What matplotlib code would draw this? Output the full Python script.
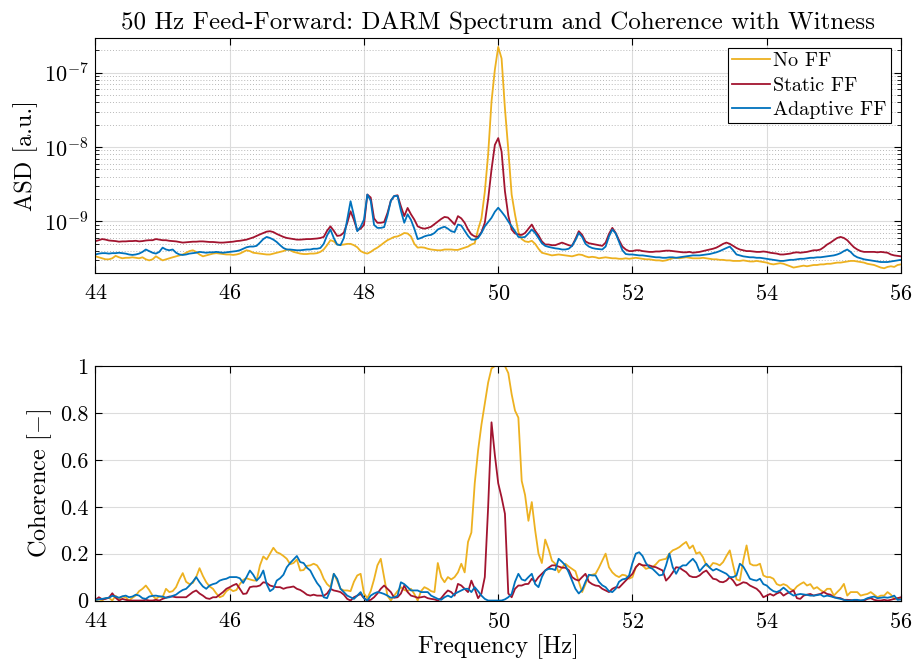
import numpy as np
import matplotlib
matplotlib.use("Agg")
import matplotlib.pyplot as plt
from matplotlib.ticker import NullFormatter, FixedLocator

# frequency bins (0.05 Hz resolution)
freq = np.linspace(44, 56, 241)

# ASD values in units of 1e-10, one row per Hz (44.00 ... 44.95 etc.)
asd_noff = [
    3.4, 3.3, 3.2, 3.1, 3.1, 3.2, 3.45, 3.3, 3.2, 3.25, 3.25, 3.3, 3.25, 3.2, 3.3, 3.1, 3.0, 3.1, 3.4, 3.2,
    3.0, 3.1, 3.2, 3.3, 3.4, 3.5, 3.6, 3.8, 4.0, 4.1, 3.9, 3.6, 3.4, 3.5, 3.6, 3.7, 3.75, 3.7, 3.65, 3.6,
    3.6, 3.55, 3.6, 3.7, 3.9, 4.1, 4.0, 3.8, 3.75, 3.7, 3.65, 3.6, 3.6, 3.7, 3.8, 3.9, 4.0, 4.2, 4.1, 3.9,
    3.8, 3.7, 3.65, 3.65, 3.7, 3.7, 3.75, 3.9, 4.2, 4.8, 5.6, 5.4, 4.9, 4.85, 4.9, 5.0, 5.0, 4.8, 4.5, 4.0,
    3.8, 3.7, 3.9, 4.2, 4.45, 4.8, 5.2, 5.6, 5.9, 6.2, 6.3, 6.6, 7.0, 6.9, 6.3, 5.0, 4.45, 4.5, 4.45, 4.3,
    4.2, 4.15, 4.1, 4.1, 4.2, 4.2, 4.2, 4.15, 4.15, 4.3, 4.45, 4.6, 4.9, 5.1, 7.8, 11.0, 25.0, 80.0, 410.0, 1100.0,
    2220.0, 1550.0, 330.0, 92.0, 23.0, 12.4, 7.2, 5.8, 5.4, 5.3, 5.5, 5.0, 4.3, 3.8, 3.7, 3.6, 3.5, 3.55, 3.6, 3.55,
    3.5, 3.45, 3.4, 3.5, 3.6, 3.55, 3.4, 3.3, 3.35, 3.3, 3.2, 3.25, 3.3, 3.25, 3.2, 3.2, 3.15, 3.15, 3.2, 3.15,
    3.2, 3.25, 3.2, 3.15, 3.1, 3.1, 3.05, 3.0, 3.0, 2.95, 3.0, 3.1, 3.2, 3.25, 3.2, 3.25, 3.3, 3.25, 3.2, 3.2,
    3.2, 3.25, 3.2, 3.15, 3.1, 3.1, 3.05, 3.05, 3.0, 3.0, 2.95, 2.95, 2.95, 3.0, 2.95, 2.9, 2.9, 2.95, 2.9, 2.85,
    2.8, 2.7, 2.65, 2.7, 2.75, 2.7, 2.6, 2.5, 2.4, 2.45, 2.5, 2.55, 2.5, 2.55, 2.6, 2.6, 2.65, 2.65, 2.7, 2.7,
    2.75, 2.8, 2.8, 2.85, 2.9, 2.95, 2.95, 2.9, 2.85, 2.8, 2.7, 2.65, 2.6, 2.5, 2.4, 2.35, 2.45, 2.5, 2.45, 2.6,
    2.65,
]
asd_static = [
    5.45, 5.6, 5.8, 5.7, 5.55, 5.5, 5.45, 5.35, 5.4, 5.4, 5.45, 5.45, 5.5, 5.4, 5.45, 5.55, 5.6, 5.6, 5.8, 5.7,
    5.6, 5.6, 5.5, 5.45, 5.4, 5.3, 5.2, 5.25, 5.3, 5.35, 5.35, 5.4, 5.4, 5.35, 5.3, 5.3, 5.25, 5.2, 5.2, 5.25,
    5.3, 5.35, 5.45, 5.5, 5.6, 5.7, 5.9, 6.1, 6.4, 6.7, 7.0, 7.3, 7.4, 7.2, 6.8, 6.5, 6.2, 6.0, 5.9, 5.8,
    5.7, 5.7, 5.75, 5.8, 5.8, 5.85, 5.9, 6.0, 6.2, 7.5, 8.6, 7.5, 6.4, 6.5, 7.1, 9.5, 13.7, 10.5, 7.6, 8.0,
    9.0, 23.0, 21.0, 11.0, 9.6, 9.6, 9.8, 13.0, 19.0, 22.0, 22.5, 16.0, 11.8, 15.2, 12.5, 10.6, 8.6, 8.2, 8.0, 8.2,
    8.5, 9.2, 10.0, 10.8, 11.5, 11.3, 10.2, 9.1, 11.8, 11.0, 9.6, 7.8, 6.7, 6.3, 6.2, 7.2, 9.6, 20.0, 50.0, 107.0,
    132.0, 87.0, 25.5, 12.0, 7.8, 6.9, 6.7, 6.6, 7.0, 8.0, 9.1, 7.5, 6.5, 5.4, 4.9, 4.9, 4.8, 4.8, 5.0, 5.2,
    5.0, 4.8, 4.7, 5.8, 7.4, 6.6, 5.4, 5.1, 5.0, 4.9, 4.8, 4.7, 5.2, 6.8, 8.2, 7.0, 5.6, 4.6, 4.2, 4.0,
    4.0, 4.1, 4.1, 4.0, 3.95, 3.9, 3.9, 3.95, 3.95, 4.0, 4.05, 4.05, 4.0, 3.95, 3.9, 3.85, 3.85, 3.9, 3.8, 3.85,
    3.9, 4.0, 4.1, 4.2, 4.3, 4.45, 4.7, 5.0, 5.2, 5.0, 4.7, 4.4, 4.2, 4.1, 4.0, 4.0, 3.95, 3.9, 3.9, 3.95,
    3.9, 3.8, 3.75, 3.7, 3.6, 3.6, 3.65, 3.7, 3.8, 3.85, 3.8, 3.85, 3.9, 4.0, 4.1, 4.1, 4.2, 4.5, 4.9, 5.2,
    5.6, 6.0, 6.2, 6.0, 5.6, 5.0, 4.5, 4.2, 4.0, 3.9, 3.9, 3.9, 3.9, 3.85, 3.9, 3.85, 3.8, 3.6, 3.5, 3.45,
    3.4,
]
asd_adaptive = [
    3.6, 3.7, 3.75, 3.75, 3.7, 3.75, 3.75, 3.8, 3.75, 3.7, 3.6, 3.55, 3.6, 3.7, 3.9, 4.2, 4.0, 3.8, 3.7, 3.9,
    4.45, 4.2, 4.1, 4.2, 3.8, 3.6, 3.55, 3.6, 3.7, 3.75, 3.8, 3.9, 3.85, 3.8, 3.85, 3.85, 3.9, 3.85, 3.8, 3.85,
    3.9, 3.95, 4.0, 4.1, 4.3, 4.5, 4.6, 4.6, 4.7, 5.2, 5.8, 6.2, 6.0, 5.7, 5.3, 4.8, 4.4, 4.2, 4.2, 4.15,
    4.1, 4.1, 4.15, 4.2, 4.2, 4.3, 4.3, 4.4, 5.0, 6.5, 7.8, 6.0, 4.9, 4.8, 6.0, 10.5, 18.7, 12.0, 7.4, 8.5,
    10.6, 23.0, 19.0, 9.0, 8.2, 8.2, 8.4, 12.0, 19.0, 22.0, 22.0, 14.0, 9.6, 12.5, 10.5, 8.0, 5.8, 6.0, 6.3, 6.5,
    6.6, 7.0, 7.8, 8.2, 8.5, 8.0, 7.4, 7.2, 9.1, 8.8, 7.5, 6.4, 5.7, 5.7, 6.0, 7.0, 8.6, 9.8, 11.2, 13.5,
    15.3, 13.5, 11.8, 10.0, 8.6, 7.4, 6.2, 6.1, 6.2, 6.9, 7.8, 7.0, 6.0, 5.1, 4.7, 4.55, 4.45, 4.35, 4.3, 4.2,
    4.2, 4.3, 4.7, 5.6, 7.0, 6.2, 5.0, 4.6, 4.4, 4.3, 4.25, 4.2, 4.6, 6.3, 7.8, 6.9, 5.3, 4.1, 3.65, 3.6,
    3.6, 3.55, 3.5, 3.5, 3.45, 3.4, 3.35, 3.3, 3.3, 3.25, 3.25, 3.3, 3.3, 3.25, 3.3, 3.35, 3.4, 3.45, 3.5, 3.5,
    3.5, 3.55, 3.6, 3.65, 3.75, 3.85, 4.0, 4.2, 4.4, 4.6, 4.1, 3.6, 3.5, 3.4, 3.35, 3.3, 3.3, 3.25, 3.25, 3.2,
    3.15, 3.1, 3.05, 3.0, 2.95, 2.95, 3.0, 3.05, 3.05, 3.1, 3.15, 3.15, 3.2, 3.25, 3.25, 3.3, 3.3, 3.35, 3.4, 3.45,
    3.5, 3.6, 3.75, 4.0, 4.2, 3.9, 3.5, 3.3, 3.2, 3.1, 3.05, 3.0, 2.95, 2.9, 2.85, 2.85, 2.85, 2.9, 2.95, 3.0,
    3.05,
]

# coherence with witness channel
coh_noff = [
    0.0, 0.005, 0.0, 0.01, 0.012, 0.0, 0.02, 0.007, 0.017, 0.014, 0.0, 0.012, 0.021, 0.04, 0.05, 0.064, 0.045, 0.021, 0.007, 0.017,
    0.014, 0.05, 0.036, 0.04, 0.057, 0.09, 0.117, 0.08, 0.07, 0.075, 0.1, 0.138, 0.105, 0.078, 0.06, 0.05, 0.03, 0.014, 0.02, 0.04,
    0.05, 0.04, 0.045, 0.07, 0.088, 0.095, 0.09, 0.086, 0.085, 0.15, 0.188, 0.175, 0.2, 0.225, 0.206, 0.2, 0.19, 0.178, 0.155, 0.16,
    0.175, 0.128, 0.13, 0.148, 0.15, 0.157, 0.15, 0.128, 0.093, 0.07, 0.057, 0.114, 0.085, 0.05, 0.043, 0.043, 0.04, 0.08, 0.107, 0.114,
    0.03, 0.01, 0.04, 0.09, 0.15, 0.178, 0.1, 0.02, 0.0, 0.021, 0.04, 0.057, 0.045, 0.04, 0.05, 0.028, 0.0, 0.04, 0.057, 0.05,
    0.04, 0.036, 0.16, 0.1, 0.078, 0.1, 0.09, 0.1, 0.12, 0.157, 0.12, 0.25, 0.29, 0.5, 0.64, 0.75, 0.84, 0.93, 0.99, 1.0,
    1.0, 1.0, 1.0, 0.97, 0.88, 0.81, 0.78, 0.51, 0.45, 0.34, 0.42, 0.3, 0.2, 0.16, 0.26, 0.22, 0.17, 0.157, 0.12, 0.14,
    0.157, 0.145, 0.135, 0.125, 0.08, 0.036, 0.07, 0.107, 0.11, 0.114, 0.14, 0.17, 0.2, 0.142, 0.12, 0.107, 0.1, 0.11, 0.107, 0.093,
    0.1, 0.142, 0.157, 0.15, 0.135, 0.14, 0.142, 0.155, 0.171, 0.175, 0.178, 0.2, 0.214, 0.22, 0.228, 0.24, 0.25, 0.222, 0.235, 0.2,
    0.206, 0.185, 0.15, 0.142, 0.16, 0.157, 0.15, 0.164, 0.19, 0.214, 0.15, 0.09, 0.085, 0.17, 0.235, 0.157, 0.15, 0.15, 0.157, 0.107,
    0.1, 0.1, 0.093, 0.07, 0.064, 0.07, 0.064, 0.05, 0.043, 0.06, 0.07, 0.078, 0.064, 0.07, 0.05, 0.057, 0.045, 0.036, 0.05, 0.05,
    0.021, 0.036, 0.05, 0.071, 0.021, 0.036, 0.036, 0.036, 0.021, 0.025, 0.028, 0.036, 0.025, 0.014, 0.021, 0.021, 0.036, 0.025, 0.007, 0.01,
    0.007,
]
coh_static = [
    0.003, 0.014, 0.005, 0.007, 0.012, 0.031, 0.012, 0.0, 0.007, 0.003, 0.0, 0.0, 0.0, 0.0, 0.0, 0.003, 0.0, 0.0, 0.003, 0.0,
    0.007, 0.012, 0.017, 0.017, 0.014, 0.014, 0.014, 0.014, 0.025, 0.036, 0.043, 0.03, 0.021, 0.01, 0.007, 0.014, 0.014, 0.025, 0.036, 0.05,
    0.057, 0.065, 0.071, 0.05, 0.028, 0.03, 0.057, 0.06, 0.06, 0.064, 0.078, 0.075, 0.064, 0.06, 0.057, 0.057, 0.05, 0.055, 0.057, 0.06,
    0.05, 0.045, 0.036, 0.025, 0.021, 0.025, 0.021, 0.021, 0.02, 0.03, 0.05, 0.043, 0.04, 0.036, 0.025, 0.007, 0.0, 0.014, 0.021, 0.028,
    0.01, 0.0, 0.003, 0.014, 0.03, 0.05, 0.064, 0.05, 0.036, 0.012, 0.014, 0.03, 0.064, 0.036, 0.021, 0.017, 0.012, 0.014, 0.017, 0.01,
    0.007, 0.005, 0.0, 0.01, 0.028, 0.043, 0.036, 0.021, 0.071, 0.064, 0.05, 0.036, 0.085, 0.05, 0.01, 0.03, 0.1, 0.4, 0.76, 0.62,
    0.5, 0.44, 0.37, 0.03, 0.014, 0.05, 0.064, 0.064, 0.07, 0.071, 0.093, 0.08, 0.1, 0.114, 0.128, 0.14, 0.15, 0.15, 0.145, 0.14,
    0.14, 0.13, 0.1, 0.09, 0.085, 0.1, 0.114, 0.08, 0.07, 0.064, 0.062, 0.05, 0.043, 0.036, 0.05, 0.057, 0.055, 0.07, 0.085, 0.1,
    0.114, 0.142, 0.157, 0.15, 0.15, 0.15, 0.145, 0.142, 0.135, 0.128, 0.085, 0.1, 0.12, 0.142, 0.14, 0.13, 0.121, 0.105, 0.1, 0.1,
    0.107, 0.12, 0.128, 0.11, 0.093, 0.09, 0.08, 0.078, 0.085, 0.1, 0.085, 0.064, 0.07, 0.078, 0.075, 0.064, 0.057, 0.05, 0.036, 0.014,
    0.021, 0.028, 0.021, 0.03, 0.036, 0.021, 0.03, 0.036, 0.043, 0.01, 0.007, 0.021, 0.025, 0.028, 0.021, 0.025, 0.028, 0.036, 0.028, 0.025,
    0.014, 0.012, 0.01, 0.003, 0.003, 0.002, 0.0, 0.0, 0.0, 0.0, 0.007, 0.01, 0.003, 0.0, 0.0, 0.003, 0.0, 0.003, 0.007, 0.01,
    0.014,
]
coh_adaptive = [
    0.003, 0.005, 0.007, 0.01, 0.012, 0.02, 0.017, 0.012, 0.018, 0.021, 0.014, 0.017, 0.025, 0.021, 0.01, 0.007, 0.017, 0.02, 0.021, 0.018,
    0.017, 0.012, 0.014, 0.02, 0.025, 0.036, 0.045, 0.05, 0.064, 0.08, 0.1, 0.078, 0.06, 0.05, 0.064, 0.07, 0.074, 0.085, 0.09, 0.093,
    0.1, 0.1, 0.1, 0.095, 0.075, 0.1, 0.128, 0.11, 0.085, 0.1, 0.128, 0.07, 0.04, 0.05, 0.085, 0.095, 0.11, 0.142, 0.16, 0.175,
    0.19, 0.164, 0.16, 0.14, 0.128, 0.1, 0.075, 0.057, 0.014, 0.01, 0.045, 0.114, 0.093, 0.05, 0.036, 0.021, 0.014, 0.007, 0.021, 0.036,
    0.01, 0.0, 0.021, 0.03, 0.036, 0.033, 0.028, 0.021, 0.012, 0.014, 0.02, 0.078, 0.07, 0.057, 0.043, 0.043, 0.043, 0.036, 0.036, 0.036,
    0.021, 0.014, 0.007, 0.003, 0.014, 0.021, 0.014, 0.028, 0.036, 0.043, 0.05, 0.05, 0.036, 0.057, 0.04, 0.021, 0.007, 0.0, 0.0, 0.0,
    0.0, 0.0, 0.005, 0.014, 0.028, 0.08, 0.114, 0.09, 0.085, 0.1, 0.114, 0.07, 0.057, 0.1, 0.128, 0.135, 0.135, 0.13, 0.178, 0.165,
    0.15, 0.12, 0.085, 0.05, 0.03, 0.045, 0.08, 0.11, 0.107, 0.107, 0.08, 0.065, 0.057, 0.04, 0.036, 0.05, 0.08, 0.09, 0.093, 0.107,
    0.16, 0.2, 0.206, 0.19, 0.16, 0.142, 0.135, 0.121, 0.107, 0.11, 0.15, 0.2, 0.142, 0.114, 0.14, 0.15, 0.15, 0.165, 0.178, 0.16,
    0.125, 0.142, 0.157, 0.14, 0.128, 0.135, 0.128, 0.121, 0.114, 0.1, 0.1, 0.107, 0.157, 0.145, 0.12, 0.093, 0.088, 0.085, 0.093, 0.07,
    0.064, 0.05, 0.04, 0.036, 0.043, 0.055, 0.043, 0.03, 0.021, 0.025, 0.028, 0.026, 0.024, 0.021, 0.021, 0.023, 0.026, 0.017, 0.021, 0.018,
    0.014, 0.01, 0.007, 0.003, 0.0, 0.0, 0.003, 0.003, 0.0, 0.003, 0.01, 0.014, 0.017, 0.01, 0.012, 0.014, 0.012, 0.015, 0.021, 0.003,
    0.005,
]

labels = ["No FF", "Static FF", "Adaptive FF"]
colors = ["#EDB120", "#A2142F", "#0072BD"]
xticks = [44, 46, 48, 50, 52, 54, 56]
asd_ticks = [1e-9, 1e-8, 1e-7]
asd_minor = [m * 10.0 ** e for e in (-10, -9, -8, -7) for m in range(2, 10)]
coh_ticks = [0, 0.2, 0.4, 0.6, 0.8, 1]
coh_ticklabels = ["0", "0.2", "0.4", "0.6", "0.8", "1"]

plt.rcParams["font.family"] = "serif"
plt.rcParams["font.serif"] = ["cmr10"]
plt.rcParams["mathtext.fontset"] = "cm"
plt.rcParams["axes.formatter.use_mathtext"] = True

fig = plt.figure(figsize=(9.13, 6.68), dpi=100)
ax1 = fig.add_axes([0.1046, 0.5918, 0.8822, 0.3509])
ax2 = fig.add_axes([0.1046, 0.1010, 0.8822, 0.3510])

asd_all = [np.array(asd_noff) * 1e-10, np.array(asd_static) * 1e-10, np.array(asd_adaptive) * 1e-10]
coh_all = [coh_noff, coh_static, coh_adaptive]

for y, c, lab in zip(asd_all, colors, labels):
    ax1.semilogy(freq, y, color=c, lw=1.3, label=lab)
for y, c in zip(coh_all, colors):
    ax2.plot(freq, y, color=c, lw=1.3)

# top panel
ax1.set_xlim(44, 56)
ax1.set_ylim(2.05e-10, 2.9e-7)
ax1.yaxis.set_major_locator(FixedLocator(asd_ticks))
ax1.yaxis.set_minor_locator(FixedLocator([v for v in asd_minor if 2.05e-10 <= v <= 2.9e-7]))
ax1.yaxis.set_minor_formatter(NullFormatter())
ax1.set_ylabel("ASD [a.u.]", fontsize=17.5)
ax1.set_title("50 Hz Feed-Forward: DARM Spectrum and Coherence with Witness", fontsize=18, pad=7)
ax1.grid(True, which="major", color="#dcdcdc", lw=0.8)
ax1.grid(True, which="minor", axis="y", color="#b8b8b8", lw=0.7, ls=(0, (1, 2)))
leg = ax1.legend(loc="upper right", fontsize=14.5, frameon=True, fancybox=False,
                 edgecolor="black", framealpha=1, handlelength=1.9,
                 borderaxespad=0.5, borderpad=0.2, labelspacing=0.3, handletextpad=0.15)
leg.get_frame().set_linewidth(0.8)

# bottom panel
ax2.set_xlim(44, 56)
ax2.set_ylim(0, 1)
ax2.set_yticks(coh_ticks)
ax2.set_yticklabels(coh_ticklabels)
ax2.set_xlabel("Frequency [Hz]", fontsize=17.5, labelpad=2)
ax2.set_ylabel("Coherence [$-$]", fontsize=17.5)
ax2.grid(True, which="major", color="#dcdcdc", lw=0.8)

for ax in (ax1, ax2):
    ax.xaxis.set_major_locator(FixedLocator(xticks))
    ax.set_axisbelow(True)
    ax.tick_params(which="both", direction="in", top=True, right=True, labelsize=16)
    ax.tick_params(which="major", length=5, width=0.8)
    ax.tick_params(which="minor", length=3, width=0.6)
    ax.tick_params(axis="x", pad=8)
    ax.tick_params(axis="y", pad=5)
    for s in ax.spines.values():
        s.set_linewidth(0.8)

fig.savefig("out.png", dpi=100)
